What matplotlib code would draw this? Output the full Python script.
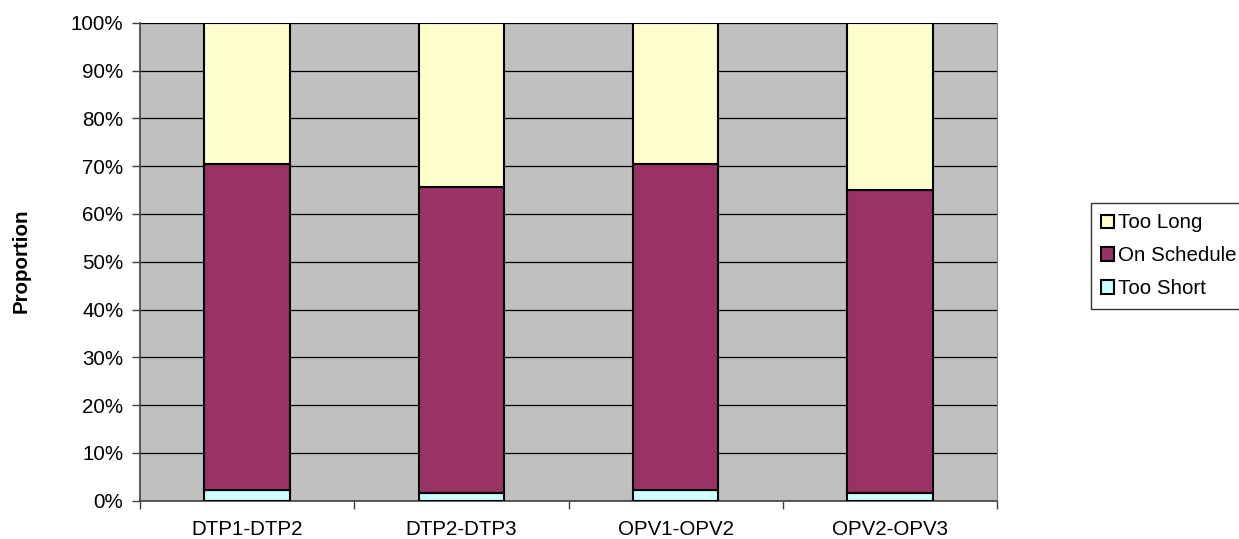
import matplotlib
matplotlib.use("Agg")
import matplotlib.pyplot as plt
import numpy as np
from matplotlib.ticker import PercentFormatter

# data (percent of children)
categories = ["DTP1-DTP2", "DTP2-DTP3", "OPV1-OPV2", "OPV2-OPV3"]
too_short = [2.2, 1.7, 2.2, 1.7]
on_schedule = [68.3, 63.9, 68.2, 63.2]
too_long = [29.5, 34.4, 29.6, 35.1]

C_SHORT = "#CCFFFF"
C_ON = "#993366"
C_LONG = "#FFFFCC"
FS = 14.8

plt.rcParams["font.family"] = ["Liberation Sans", "DejaVu Sans"]

fig = plt.figure(figsize=(12.39, 5.39), dpi=100)
ax = fig.add_axes([140 / 1239, 1 - 500.7 / 539, (997 - 140) / 1239, (500.7 - 22.7) / 539])
ax.set_facecolor("#C0C0C0")

x = np.arange(len(categories))
w = 0.4
kw = dict(width=w, edgecolor="black", linewidth=1.5, zorder=3)
b1 = ax.bar(x, too_short, color=C_SHORT, label="Too Short", **kw)
b2 = ax.bar(x, on_schedule, bottom=too_short, color=C_ON, label="On Schedule", **kw)
bottom2 = np.array(too_short) + np.array(on_schedule)
b3 = ax.bar(x, too_long, bottom=bottom2, color=C_LONG, label="Too Long", **kw)

ax.set_xlim(-0.5, len(categories) - 0.5)
ax.set_ylim(0, 100)
ax.set_yticks(np.arange(0, 101, 10))
ax.yaxis.set_major_formatter(PercentFormatter(decimals=0))
ax.yaxis.grid(True, color="black", linewidth=0.9, zorder=1)
ax.set_axisbelow(True)

# category labels centred, ticks on the boundaries
ax.set_xticks(x)
ax.set_xticklabels(categories)
ax.tick_params(axis="x", which="major", length=0, pad=14, labelsize=FS)
ax.set_xticks(np.arange(-0.5, len(categories), 1), minor=True)
ax.tick_params(axis="x", which="minor", length=6, width=1, color="#404040")
ax.tick_params(axis="y", length=6, width=1, color="#404040", labelsize=FS, pad=6)

for s in ["left", "bottom"]:
    ax.spines[s].set_color("#404040")
    ax.spines[s].set_linewidth(1.2)
ax.spines["right"].set_color("#808080")
ax.spines["top"].set_visible(False)

fig.text(21 / 1239, 1 - 261 / 539, "Proportion", rotation=90, fontweight="bold",
         fontsize=FS, ha="center", va="center")

leg = ax.legend(handles=[b3, b2, b1], loc="upper left",
                bbox_to_anchor=(1091 / 1239, 1 - 203 / 539),
                bbox_transform=fig.transFigure, frameon=True, fancybox=False,
                fontsize=FS, handlelength=0.6, handleheight=0.6,
                handletextpad=0.2, labelspacing=0.68, borderpad=0.5,
                borderaxespad=0)
leg.get_frame().set_edgecolor("black")
leg.get_frame().set_linewidth(1.0)

fig.savefig("out.png", dpi=100, facecolor="white")
